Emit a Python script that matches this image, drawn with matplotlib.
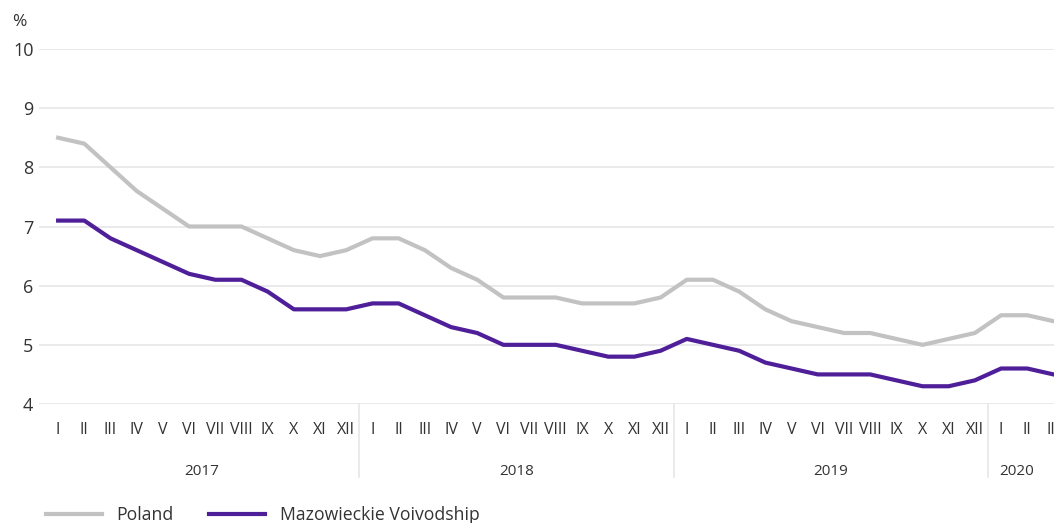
"""
Registered unemployment rate: Poland vs Mazowieckie Voivodship, 2017-2020.
"""

import matplotlib
matplotlib.use('Agg')
import matplotlib.pyplot as plt
import numpy as np

# Data
YEARS = ['2017', '2018', '2019', '2020']
MONTHS = ['I', 'II', 'III', 'IV', 'V', 'VI', 'VII', 'VIII', 'IX', 'X', 'XI', 'XII']
MONTH_LABELS = MONTHS * 3 + MONTHS[:3]

poland = [8.5, 8.4, 8.0, 7.6, 7.3, 7.0, 7.0, 7.0, 6.8, 6.6, 6.5, 6.6,
          6.8, 6.8, 6.6, 6.3, 6.1, 5.8, 5.8, 5.8, 5.7, 5.7, 5.7, 5.8,
          6.1, 6.1, 5.9, 5.6, 5.4, 5.3, 5.2, 5.2, 5.1, 5.0, 5.1, 5.2,
          5.5, 5.5, 5.4]
mazowieckie = [7.1, 7.1, 6.8, 6.6, 6.4, 6.2, 6.1, 6.1, 5.9, 5.6, 5.6, 5.6,
               5.7, 5.7, 5.5, 5.3, 5.2, 5.0, 5.0, 5.0, 4.9, 4.8, 4.8, 4.9,
               5.1, 5.0, 4.9, 4.7, 4.6, 4.5, 4.5, 4.5, 4.4, 4.3, 4.3, 4.4,
               4.6, 4.6, 4.5]

# Style
plt.rcParams['font.family'] = ['Open Sans', 'DejaVu Sans']
TEXT = '#333333'
GRID = '#e6e6e6'
GREY = '#c2c2c2'
PURPLE = '#4f1f9a'

W, H = 1054, 523
fig = plt.figure(figsize=(W / 100, H / 100), dpi=100)
ax = fig.add_axes([39 / W, 1 - 404 / H, (W - 39) / W, (404 - 49) / H])

x = np.arange(len(poland))
ax.plot(x, poland, color=GREY, linewidth=3.0, solid_joinstyle='round',
        label='Poland', clip_on=False, zorder=3)
ax.plot(x, mazowieckie, color=PURPLE, linewidth=3.0, solid_joinstyle='round',
        label='Mazowieckie Voivodship', clip_on=False, zorder=4)

ax.set_ylim(4, 10)
ax.set_xlim(-0.73, 38.02)
ax.set_yticks(range(4, 11))
ax.tick_params(axis='y', length=0, pad=4, labelsize=13, labelcolor=TEXT)
ax.grid(axis='y', color=GRID, linewidth=1.2)
ax.set_axisbelow(True)
ax.set_xticks([])
for s in ax.spines.values():
    s.set_visible(False)

# month and year labels
tr = ax.get_xaxis_transform()
for i, m in enumerate(MONTH_LABELS):
    ax.text(i, -0.073, m, transform=tr, ha='center', va='center',
            fontsize=11.5, color=TEXT, clip_on=False)

year_pos = [5.5, 17.5, 29.5, 36.6]
for xp, yr in zip(year_pos, YEARS):
    ax.text(xp, -0.19, yr, transform=tr, ha='center', va='center',
            fontsize=11, color=TEXT, clip_on=False)

for sep in [11.5, 23.5, 35.5]:
    ax.plot([sep, sep], [0, -0.205], transform=tr, color=GRID,
            linewidth=1.2, clip_on=False)

fig.text(12 / W, 1 - 22 / H, '%', fontsize=12.5, color=TEXT, va='center')

leg = fig.legend(loc='lower left', bbox_to_anchor=(30 / W, -17 / H), ncol=2,
                 frameon=False, fontsize=12.7, handlelength=3.2,
                 handletextpad=0.8, columnspacing=2.0)
for t in leg.get_texts():
    t.set_color(TEXT)

fig.savefig('out.png', dpi=100, facecolor='white')
